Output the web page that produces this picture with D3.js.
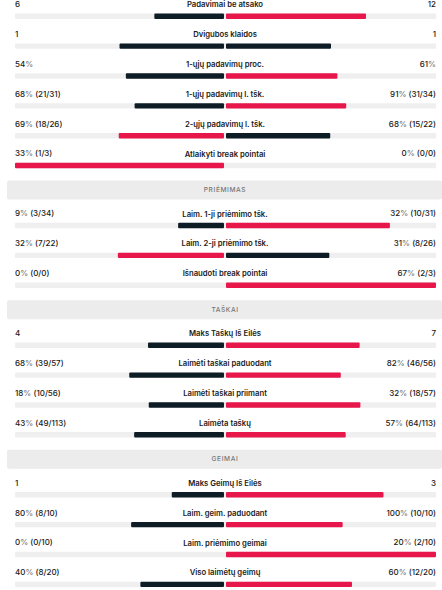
<!DOCTYPE html>
<html><head><meta charset="utf-8">
<script src="https://cdn.jsdelivr.net/npm/d3@7"></script>
<style>html,body{margin:0;padding:0;background:#fff;}svg{display:block;}</style>
</head><body><div id="chart"></div>
<script>
// ---- data ----
const sectionTitles = ["", "PRIĖMIMAS", "TAŠKAI", "GEIMAI"];
const rowSection = [0,0,0,0,0,0, 1,1,1, 2,2,2,2, 3,3,3,3];
const labels = [
  "Padavimai be atsako","Dvigubos klaidos","1-ųjų padavimų proc.","1-ųjų padavimų l. tšk.","2-ųjų padavimų l. tšk.","Atlaikyti break pointai",
  "Laim. 1-ji priėmimo tšk.","Laim. 2-ji priėmimo tšk.","Išnaudoti break pointai",
  "Maks Taškų Iš Eilės","Laimėti taškai paduodant","Laimėti taškai priimant","Laimėta taškų",
  "Maks Geimų Iš Eilės","Laim. geim. paduodant","Laim. priėmimo geimai","Viso laimėtų geimų"
];
const leftText = ["6","1","54%","68% (21/31)","69% (18/26)","33% (1/3)",
  "9% (3/34)","32% (7/22)","0% (0/0)",
  "4","68% (39/57)","18% (10/56)","43% (49/113)",
  "1","80% (8/10)","0% (0/10)","40% (8/20)"];
const rightText = ["12","1","61%","91% (31/34)","68% (15/22)","0% (0/0)",
  "32% (10/31)","31% (8/26)","67% (2/3)",
  "7","82% (46/56)","32% (18/57)","57% (64/113)",
  "3","100% (10/10)","20% (2/10)","60% (12/20)"];
const leftValues = [6,1,54,68,69,33, 9,32,0, 4,68,18,43, 1,80,0,40];
const rightValues = [12,1,61,91,68,0, 32,31,67, 7,82,32,57, 3,100,20,60];

// ---- layout ----
const W = 442, H = 590;
const center = 225, trackL = 15, trackR = 436;
const RED = "#e8174b", DARK = "#0e1c26", TRACK = "#efefef", HEAD = "#ececec";
const FONT = "Inter, 'Open Sans', sans-serif";

const svg = d3.select("#chart").append("svg").attr("width", W).attr("height", H);

const leftScale = d3.scaleLinear().domain([0,1]).range([center - 1, trackL]);
const rightScale = d3.scaleLinear().domain([0,1]).range([center + 1, trackR]);

// compute y positions
const pitch = 29.85;
let y = 5.2;
const rowY = [];
const headerY = {};
rowSection.forEach((s, i) => {
  if (i > 0 && s !== rowSection[i-1]) {
    const top = y - pitch + 26;
    headerY[s] = top;
    y = top + 19 + 15;
  }
  rowY.push(y);
  y += pitch;
});

// headers
Object.keys(headerY).forEach(s => {
  const g = svg.append("g");
  g.append("rect").attr("x", 7).attr("y", headerY[s]).attr("width", W - 7).attr("height", 19)
    .attr("rx", 2).attr("fill", HEAD);
  g.append("text").attr("x", center).attr("y", headerY[s] + 9.8)
    .attr("text-anchor", "middle").attr("dominant-baseline", "middle")
    .attr("font-family", FONT).attr("font-size", 6.6).attr("font-weight", 500)
    .attr("letter-spacing", 0.6).attr("fill", "#777").text(sectionTitles[s]);
});

const rows = svg.selectAll("g.row").data(labels.map((l, i) => ({i, l}))).join("g").attr("class", "row")
  .attr("transform", d => `translate(0,${rowY[d.i]})`);

function valText(sel, str) {
  // draw % in lighter grey
  const parts = str.split("%");
  parts.forEach((p, k) => {
    sel.append("tspan").attr("fill", "#1a1a1a").text(p);
    if (k < parts.length - 1) sel.append("tspan").attr("fill", "#777").text("%");
  });
}

rows.append("text").attr("x", trackL).attr("y", 0).attr("dominant-baseline", "middle")
  .attr("font-family", FONT).attr("font-size", 8).attr("font-weight", 500)
  .each(function(d){ valText(d3.select(this), leftText[d.i]); });
rows.append("text").attr("x", trackR).attr("y", 0).attr("dominant-baseline", "middle").attr("text-anchor", "end")
  .attr("font-family", FONT).attr("font-size", 8).attr("font-weight", 500)
  .each(function(d){ valText(d3.select(this), rightText[d.i]); });
rows.append("text").attr("x", center).attr("y", 0).attr("dominant-baseline", "middle").attr("text-anchor", "middle")
  .attr("font-family", FONT).attr("font-size", 7.7).attr("font-weight", 600).attr("fill", "#1a1a1a")
  .text(d => d.l);

// tracks
const barY = 8.4, barH = 5.4;
rows.append("rect").attr("x", trackL).attr("y", barY).attr("width", trackR - trackL).attr("height", barH)
  .attr("rx", 1).attr("fill", TRACK);

// bars
rows.append("rect")
  .attr("x", d => { const s = leftValues[d.i] / (leftValues[d.i] + rightValues[d.i]); return leftScale(s); })
  .attr("y", barY).attr("height", barH).attr("rx", 1)
  .attr("width", d => { const s = leftValues[d.i] / (leftValues[d.i] + rightValues[d.i]); return leftScale(0) - leftScale(s); })
  .attr("fill", d => leftValues[d.i] > rightValues[d.i] ? RED : DARK);
rows.append("rect")
  .attr("x", rightScale(0))
  .attr("y", barY).attr("height", barH).attr("rx", 1)
  .attr("width", d => { const s = rightValues[d.i] / (leftValues[d.i] + rightValues[d.i]); return rightScale(s) - rightScale(0); })
  .attr("fill", d => rightValues[d.i] > leftValues[d.i] ? RED : DARK);
</script>
</body></html>
